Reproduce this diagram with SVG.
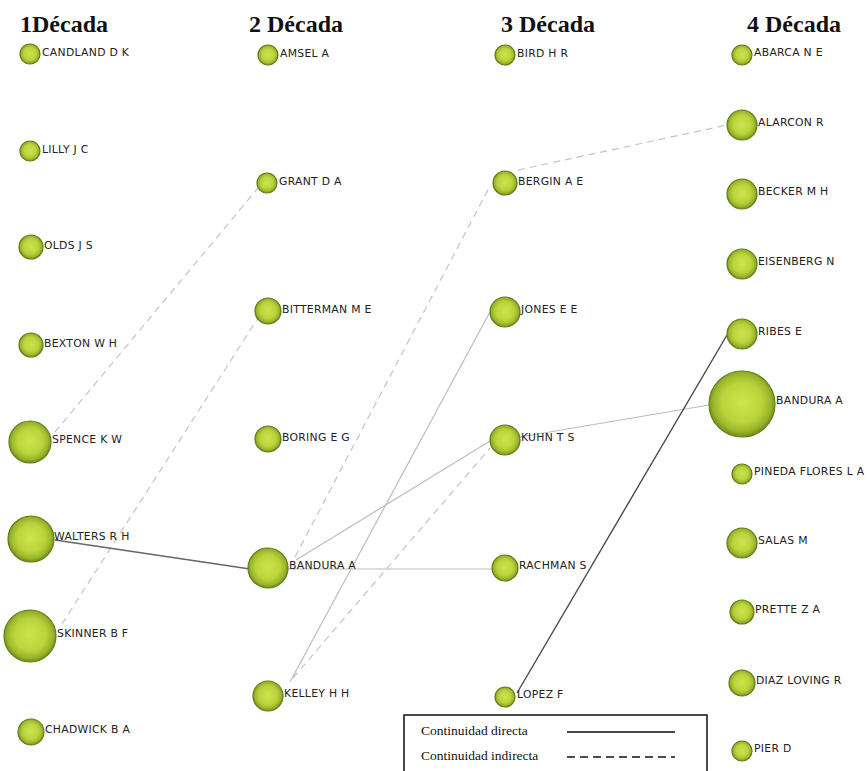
<svg xmlns="http://www.w3.org/2000/svg" width="868" height="771" viewBox="0 0 868 771">
<defs>
<radialGradient id="g" cx="50%" cy="48%" r="50%">
<stop offset="0" stop-color="#cde44e"/>
<stop offset="0.6" stop-color="#bcd43c"/>
<stop offset="0.88" stop-color="#9ab52a"/>
<stop offset="1" stop-color="#7a951e"/>
</radialGradient>
<style>
.n circle{fill:url(#g);stroke:#637e19;stroke-width:1.2}
.n text{font-family:"DejaVu Sans",Verdana,sans-serif;font-size:10.8px;letter-spacing:0.3px;fill:#222}
.h{font-family:"Liberation Serif","Times New Roman",serif;font-size:24px;font-weight:bold;fill:#111}
.d{stroke:#c4c4c4;stroke-width:1.2;stroke-dasharray:7 5;fill:none}
.s{stroke:#bdbdbd;stroke-width:1.2;fill:none}
.k{stroke:#666;stroke-width:1.3;fill:none}
.lg{font-family:"Liberation Serif","Times New Roman",serif;font-size:13.5px;fill:#111}
</style>
</defs>
<rect width="868" height="771" fill="#fff"/>
<text class="h" x="20" y="32">1Década</text>
<text class="h" x="249" y="32">2 Década</text>
<text class="h" x="501" y="32">3 Década</text>
<text class="h" x="747" y="32">4 Década</text>
<g id="connectors">
<line class="d" x1="55" y1="432" x2="258" y2="188"/>
<line class="d" x1="62" y1="624" x2="258" y2="318"/>
<line class="d" x1="295" y1="557" x2="490" y2="186"/>
<line class="d" x1="293" y1="678" x2="490" y2="448"/>
<line class="d" x1="518" y1="170" x2="727" y2="125"/>
<line class="k" x1="55" y1="540" x2="250" y2="569"/>
<line class="s" x1="296" y1="560" x2="490" y2="441"/>
<line class="s" x1="288" y1="569" x2="492" y2="569"/>
<line class="s" x1="290" y1="682" x2="490" y2="312"/>
<line class="s" x1="520" y1="437" x2="709" y2="405"/>
<line style="stroke:#4a4a4a;stroke-width:1.4" x1="517" y1="693" x2="727" y2="335"/>
</g>
<g id="n-candland" class="n"><circle cx="30" cy="54" r="10"/><text x="42" y="56">CANDLAND D K</text></g>
<g id="n-lilly" class="n"><circle cx="30" cy="151" r="10"/><text x="42" y="153">LILLY J C</text></g>
<g id="n-olds" class="n"><circle cx="31" cy="247" r="12"/><text x="44" y="249">OLDS J S</text></g>
<g id="n-bexton" class="n"><circle cx="31" cy="345" r="12"/><text x="44" y="347">BEXTON W H</text></g>
<g id="n-spence" class="n"><circle cx="30" cy="442" r="21"/><text x="52" y="443">SPENCE K W</text></g>
<g id="n-walters" class="n"><circle cx="31" cy="539" r="23"/><text x="54" y="540">WALTERS R H</text></g>
<g id="n-skinner" class="n"><circle cx="30" cy="636" r="26"/><text x="57" y="637">SKINNER B F</text></g>
<g id="n-chadwick" class="n"><circle cx="31" cy="732" r="13"/><text x="45" y="733">CHADWICK B A</text></g>
<g id="n-amsel" class="n"><circle cx="268" cy="55" r="10"/><text x="280" y="57">AMSEL A</text></g>
<g id="n-grant" class="n"><circle cx="267" cy="183" r="10"/><text x="279" y="185">GRANT D A</text></g>
<g id="n-bitterman" class="n"><circle cx="268" cy="311" r="13"/><text x="282" y="313">BITTERMAN M E</text></g>
<g id="n-boring" class="n"><circle cx="268" cy="439" r="13"/><text x="282" y="441">BORING E G</text></g>
<g id="n-bandura2" class="n"><circle cx="268" cy="568" r="20"/><text x="289" y="569">BANDURA A</text></g>
<g id="n-kelley" class="n"><circle cx="268" cy="696" r="15"/><text x="284" y="697">KELLEY H H</text></g>
<g id="n-bird" class="n"><circle cx="505" cy="55" r="10"/><text x="517" y="57">BIRD H R</text></g>
<g id="n-bergin" class="n"><circle cx="505" cy="183" r="12"/><text x="518" y="185">BERGIN A E</text></g>
<g id="n-jones" class="n"><circle cx="505" cy="312" r="15"/><text x="521" y="313">JONES E E</text></g>
<g id="n-kuhn" class="n"><circle cx="505" cy="440" r="15"/><text x="521" y="441">KUHN T S</text></g>
<g id="n-rachman" class="n"><circle cx="505" cy="568" r="13"/><text x="519" y="569">RACHMAN S</text></g>
<g id="n-lopez" class="n"><circle cx="505" cy="697" r="10"/><text x="517" y="698">LOPEZ F</text></g>
<g id="n-abarca" class="n"><circle cx="742" cy="55" r="10"/><text x="754" y="56">ABARCA N E</text></g>
<g id="n-alarcon" class="n"><circle cx="742" cy="125" r="15"/><text x="758" y="126">ALARCON R</text></g>
<g id="n-becker" class="n"><circle cx="742" cy="194" r="15"/><text x="758" y="195">BECKER M H</text></g>
<g id="n-eisenberg" class="n"><circle cx="742" cy="264" r="15"/><text x="758" y="265">EISENBERG N</text></g>
<g id="n-ribes" class="n"><circle cx="742" cy="334" r="15"/><text x="758" y="335">RIBES E</text></g>
<g id="n-bandura4" class="n"><circle cx="742" cy="404" r="33"/><text x="776" y="404">BANDURA A</text></g>
<g id="n-pineda" class="n"><circle cx="742" cy="474" r="10"/><text x="754" y="475">PINEDA FLORES L A</text></g>
<g id="n-salas" class="n"><circle cx="742" cy="543" r="15"/><text x="758" y="544">SALAS M</text></g>
<g id="n-prette" class="n"><circle cx="742" cy="612" r="12"/><text x="755" y="613">PRETTE Z A</text></g>
<g id="n-diaz" class="n"><circle cx="742" cy="683" r="13"/><text x="756" y="684">DIAZ LOVING R</text></g>
<g id="n-pier" class="n"><circle cx="742" cy="751" r="10"/><text x="754" y="752">PIER D</text></g>
<g id="legend">
<rect x="404" y="715" width="303" height="62" fill="#fff" stroke="#111" stroke-width="1.5"/>
<text class="lg" x="421" y="735">Continuidad directa</text>
<text class="lg" x="421" y="760">Continuidad indirecta</text>
<line x1="567" y1="732" x2="675" y2="732" stroke="#111" stroke-width="1.3"/>
<line x1="567" y1="757" x2="675" y2="757" stroke="#111" stroke-width="1.3" stroke-dasharray="8 5"/>
</g>
</svg>
